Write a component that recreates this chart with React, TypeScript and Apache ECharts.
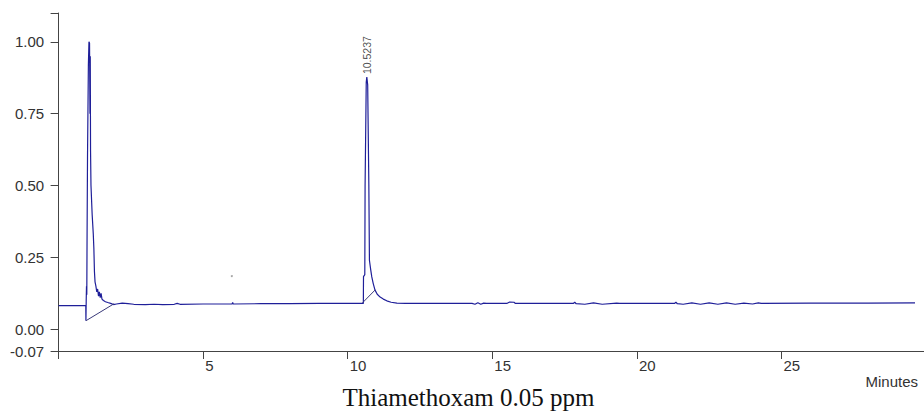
import React, { useEffect, useRef } from "react";
import * as echarts from "echarts";

// Chromatogram trace: [minutes, response]
const preBaseline: [number, number][] = [
  [0, 0.082], [0.94, 0.082],
];
const peak1: [number, number][] = [
  [0.945, 0.03], [0.955, 0.1], [0.965, 0.15], [0.975, 0.12], [0.985, 0.33],
  [1.0, 0.6], [1.03, 0.92], [1.05, 1.0], [1.07, 0.995], [1.085, 0.75],
  [1.095, 0.95], [1.105, 0.62], [1.12, 0.5], [1.16, 0.4], [1.2, 0.33],
  [1.22, 0.28], [1.24, 0.2], [1.26, 0.165], [1.29, 0.15], [1.32, 0.13],
  [1.35, 0.14], [1.38, 0.115], [1.41, 0.13], [1.44, 0.11], [1.47, 0.125],
  [1.5, 0.105], [1.55, 0.1], [1.62, 0.096], [1.7, 0.093], [1.8, 0.09],
  [1.9, 0.086],
];
const midBaseline: [number, number][] = [
  [2.0, 0.088], [2.2, 0.091], [2.4, 0.089], [2.6, 0.087], [3.0, 0.086],
  [3.3, 0.087], [3.6, 0.086], [4.0, 0.087], [4.1, 0.09], [4.2, 0.087],
  [5.0, 0.088], [6.0, 0.088], [6.02, 0.093], [6.04, 0.088], [7.0, 0.089],
  [8.0, 0.089], [9.0, 0.09], [10.0, 0.09], [10.54, 0.09],
];
const peak2: [number, number][] = [
  [10.545, 0.183], [10.59, 0.19], [10.6, 0.5], [10.64, 0.86], [10.66, 0.877],
  [10.69, 0.85], [10.73, 0.5], [10.75, 0.24], [10.79, 0.21], [10.83, 0.183],
  [10.88, 0.16], [10.94, 0.137], [11.02, 0.122], [11.12, 0.112], [11.23, 0.105],
  [11.35, 0.099], [11.5, 0.094], [11.7, 0.091],
];
const lateBaseline: [number, number][] = [
  [12.0, 0.09], [14.3, 0.09], [14.4, 0.087], [14.5, 0.092], [14.6, 0.087],
  [14.7, 0.091], [14.8, 0.09], [15.5, 0.09], [15.6, 0.095], [15.75, 0.094],
  [15.8, 0.09], [17.8, 0.09], [17.85, 0.094], [17.9, 0.089], [18.2, 0.087],
  [18.5, 0.092], [18.8, 0.087], [19.3, 0.091], [19.4, 0.09], [21.3, 0.09],
  [21.35, 0.094], [21.4, 0.089], [21.6, 0.087], [21.9, 0.092], [22.2, 0.087],
  [22.5, 0.092], [22.8, 0.087], [23.1, 0.092], [23.4, 0.087], [23.7, 0.091],
  [24.0, 0.088], [24.2, 0.092], [24.3, 0.09], [26.0, 0.091], [28.0, 0.091],
  [29.62, 0.092],
];
// Integration baselines drawn by the data system
const integ1: [number, number][] = [[0.95, 0.03], [1.92, 0.089]];
const integ2: [number, number][] = [[10.51, 0.092], [10.95, 0.137]];
// Peak annotation
const peakLabelPoint: [number, number] = [10.66, 0.877];
const peakLabelText = "10.5237";
const strayDots: [number, number][] = [[5.99, 0.185]];

const xTicks = [0, 5, 10, 15, 20, 25];
const xLabels = [5, 10, 15, 20, 25];
const yMin = -0.0755;
const yMax = 1.1;
const yTicks = [yMin, 0, 0.25, 0.5, 0.75, 1.0, 1.1];
const yLabels = [yMin, 0, 0.25, 0.5, 0.75, 1.0];
const titleText = "Thiamethoxam 0.05 ppm";
const xUnit = "Minutes";

export default function App() {
  const ref = useRef<HTMLDivElement>(null);
  useEffect(() => {
    if (!ref.current) return;
    const chart = echarts.init(ref.current, null, { renderer: "svg" });
    const trace = [...preBaseline, ...peak1, ...midBaseline, ...peak2, ...lateBaseline];
    const axisColor = "#444";
    const labelFont = { fontFamily: "Liberation Sans, Arial, sans-serif", fontSize: 15, color: "#333" };
    chart.setOption({
      animation: false,
      backgroundColor: "#ffffff",
      grid: { left: 58.6, right: 0, top: 13, bottom: 61, containLabel: false },
      xAxis: {
        type: "value",
        min: 0,
        max: 29.93,
        splitLine: { show: false },
        axisLine: { show: true, onZero: false, lineStyle: { color: axisColor, width: 1 } },
        axisTick: { show: true, length: 8, customValues: xTicks, lineStyle: { color: axisColor } },
        axisLabel: {
          ...labelFont,
          customValues: xLabels,
          align: "left",
          padding: [0, 0, 0, 2],
          margin: 7,
          formatter: (v: number) => String(Math.round(v)),
        },
      },
      yAxis: {
        type: "value",
        min: yMin,
        max: yMax,
        splitLine: { show: false },
        axisLine: { show: true, onZero: false, lineStyle: { color: axisColor, width: 1 } },
        axisTick: { show: true, length: 8, customValues: yTicks, lineStyle: { color: axisColor } },
        axisLabel: {
          ...labelFont,
          customValues: yLabels,
          margin: 14.5,
          formatter: (v: number) => (v < -0.05 ? "-0.07" : v.toFixed(2)),
        },
      },
      series: [
        {
          type: "line",
          data: trace,
          showSymbol: false,
          symbol: "none",
          lineStyle: { color: "#1f1f99", width: 1.2 },
          z: 3,
        },
        {
          type: "line",
          data: integ1,
          showSymbol: false,
          symbol: "none",
          lineStyle: { color: "#3a3a7a", width: 1 },
        },
        {
          type: "line",
          data: integ2,
          showSymbol: false,
          symbol: "none",
          lineStyle: { color: "#3a3a7a", width: 1 },
        },
        {
          type: "scatter",
          data: [peakLabelPoint],
          symbolSize: 0,
          label: {
            show: true,
            position: "top",
            distance: 3,
            rotate: 90,
            align: "left",
            verticalAlign: "middle",
            formatter: peakLabelText,
            fontFamily: "Liberation Sans, Arial, sans-serif",
            fontSize: 10.5,
            color: "#222",
          },
        },
        {
          type: "scatter",
          data: strayDots,
          symbolSize: 2,
          itemStyle: { color: "#888" },
        },
      ],
      graphic: [
        {
          type: "text",
          style: {
            text: xUnit,
            x: 918,
            y: 381,
            align: "right",
            verticalAlign: "middle",
            font: "15px 'Liberation Sans', Arial, sans-serif",
            fill: "#333",
          },
        },
        {
          type: "text",
          style: {
            text: titleText,
            x: 468.5,
            y: 397,
            align: "center",
            verticalAlign: "middle",
            font: "25px 'Liberation Serif', 'Times New Roman', serif",
            fill: "#111",
          },
        },
      ],
    });
    return () => chart.dispose();
  }, []);
  return (
    <div
      ref={ref}
      style={{ position: "fixed", left: 0, top: 0, width: 924, height: 412, background: "#fff" }}
    />
  );
}
